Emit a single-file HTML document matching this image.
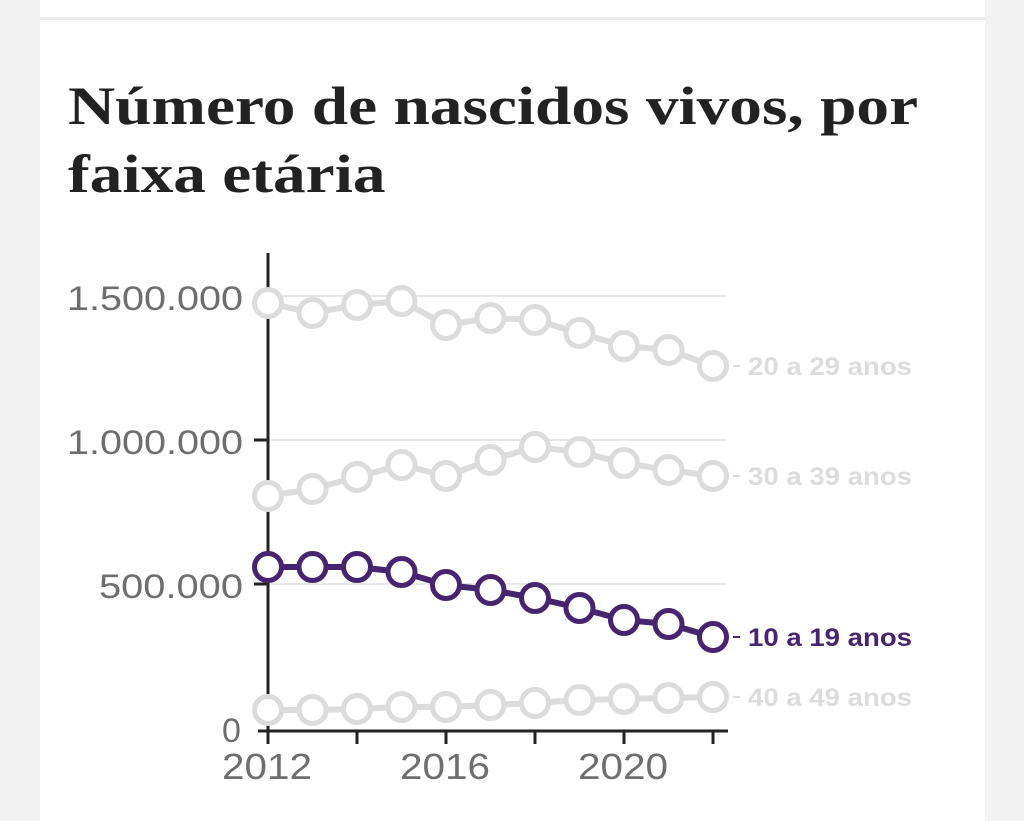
<!DOCTYPE html>
<html><head><meta charset="utf-8"><style>
html,body{margin:0;padding:0;background:#f2f2f2;width:1024px;height:821px;overflow:hidden}
.card{position:absolute;left:40px;top:0;width:945px;height:821px;background:#fff}
.sep{position:absolute;left:40px;top:17px;width:945px;height:3px;background:#ececec}
h1{position:absolute;left:68px;top:72px;margin:0;font-family:"Liberation Serif",serif;font-weight:bold;font-size:54px;line-height:68px;color:#222;transform:scaleX(1.21);transform-origin:0 0;white-space:nowrap}
svg{position:absolute;left:0;top:0}
</style></head><body>
<div class="card"></div><div class="sep"></div>
<h1>Número de nascidos vivos, por<br>faixa etária</h1>
<svg id="s" width="1024" height="821" xmlns="http://www.w3.org/2000/svg">
<g stroke="#e8e8e8" stroke-width="2">
<line x1="268" y1="296" x2="726" y2="296"/><line x1="268" y1="440" x2="726" y2="440"/><line x1="268" y1="584" x2="726" y2="584"/>
</g>
<g stroke="#222" stroke-width="3">
<line x1="268" y1="253" x2="268" y2="731"/>
<line x1="258" y1="731" x2="728" y2="731"/>
<line x1="254" y1="440" x2="268" y2="440"/><line x1="254" y1="584" x2="268" y2="584"/>
<line x1="268" y1="731" x2="268" y2="744"/><line x1="357" y1="731" x2="357" y2="744"/><line x1="446" y1="731" x2="446" y2="744"/><line x1="535" y1="731" x2="535" y2="744"/><line x1="624" y1="731" x2="624" y2="744"/><line x1="713" y1="731" x2="713" y2="744"/>
</g>
<g font-family="Liberation Sans,sans-serif" font-size="34" fill="#6e6e6e">
<text x="67" y="310" textLength="176" lengthAdjust="spacingAndGlyphs">1.500.000</text>
<text x="67" y="454" textLength="176" lengthAdjust="spacingAndGlyphs">1.000.000</text>
<text x="99" y="598" textLength="144" lengthAdjust="spacingAndGlyphs">500.000</text>
<text x="222" y="742">0</text>
</g>
<g font-family="Liberation Sans,sans-serif" font-size="36" fill="#6e6e6e">
<text x="222" y="779" textLength="90" lengthAdjust="spacingAndGlyphs">2012</text>
<text x="400" y="779" textLength="90" lengthAdjust="spacingAndGlyphs">2016</text>
<text x="578" y="779" textLength="90" lengthAdjust="spacingAndGlyphs">2020</text>
</g>
<g id="series"></g>
</svg>
<script>
var S=[
{y:[303,313,305,301,325,318,320,333,346,350,366],c:"#dcdcdc",l:"20 a 29 anos"},
{y:[496,489,477,465,476,460,447,452,463,470,476],c:"#dcdcdc",l:"30 a 39 anos"},
{y:[710,710,709,707,707,705,703,700,699,698,697],c:"#dcdcdc",l:"40 a 49 anos"},
{y:[567,567,567,572,585,590,598,608,620,624,637],c:"#46246f",l:"10 a 19 anos"}];
var h="";
S.forEach(function(s){
 var p=s.y.map(function(v,i){return (268+44.5*i)+","+v}).join(" ");
 h+='<polyline points="'+p+'" fill="none" stroke="'+s.c+'" stroke-width="6"/>';
 s.y.forEach(function(v,i){h+='<circle cx="'+(268+44.5*i)+'" cy="'+v+'" r="13.5" fill="#fff" stroke="'+s.c+'" stroke-width="5"/>';});
 var ly=s.y[10];
 h+='<line x1="733" y1="'+ly+'" x2="740" y2="'+ly+'" stroke="'+s.c+'" stroke-width="2"/>';
 h+='<text x="748" y="'+(ly+9)+'" font-family="Liberation Sans,sans-serif" font-weight="bold" font-size="25" fill="'+s.c+'" textLength="164" lengthAdjust="spacingAndGlyphs">'+s.l+'</text>';
});
document.getElementById("series").innerHTML=h;
</script>
</body></html>
